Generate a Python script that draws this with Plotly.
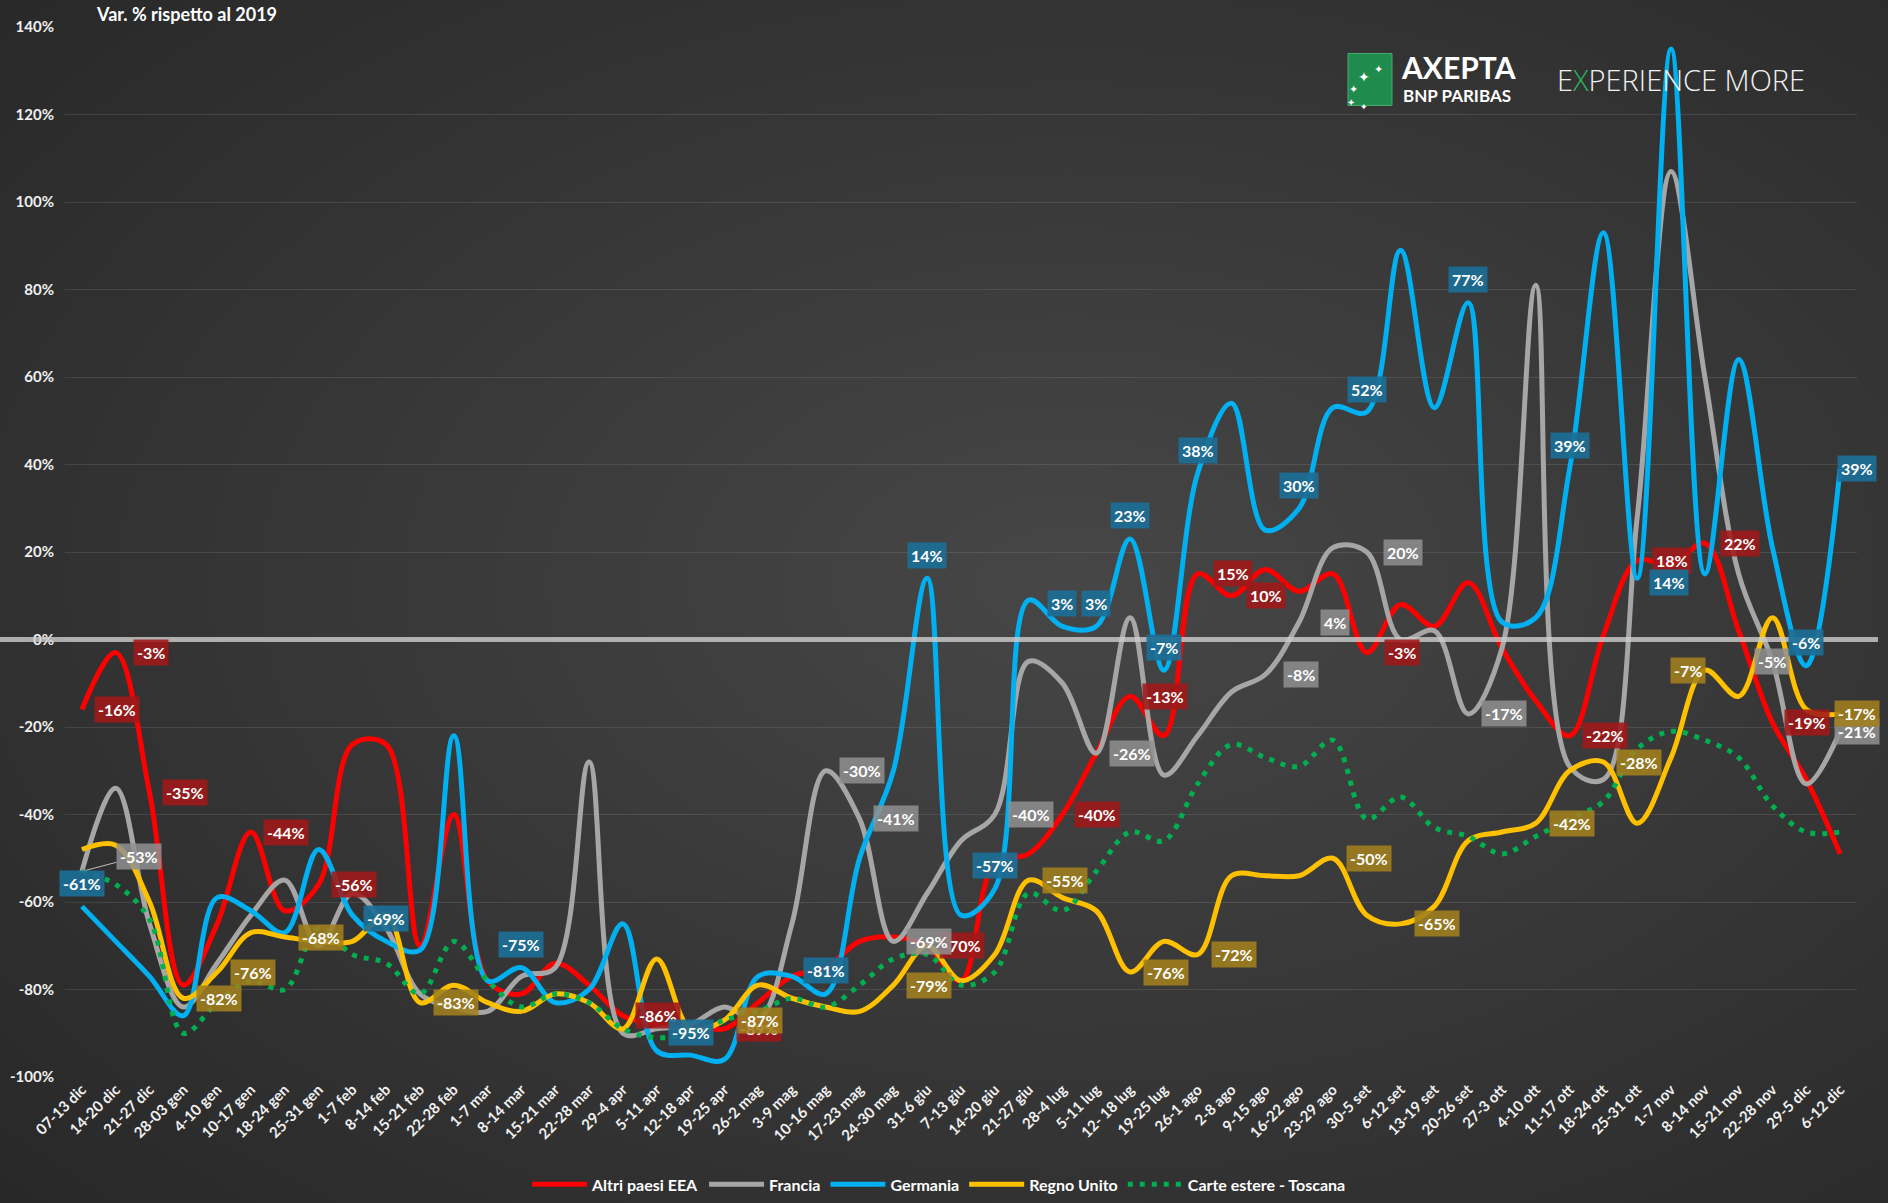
import plotly.graph_objects as go

categories = ["07-13 dic","14-20 dic","21-27 dic","28-03 gen","4-10 gen","10-17 gen","18-24 gen","25-31 gen",
              "1-7 feb","8-14 feb","15-21 feb","22-28 feb","1-7 mar","8-14 mar","15-21 mar","22-28 mar",
              "29-4 apr","5-11 apr","12-18 apr","19-25 apr","26-2 mag","3-9 mag","10-16 mag","17-23 mag",
              "24-30 mag","31-6 giu","7-13 giu","14-20 giu","21-27 giu","28-4 lug","5-11 lug","12- 18 lug",
              "19-25 lug","26-1 ago","2-8 ago","9-15 ago","16-22 ago","23-29 ago","30-5 set","6-12 set",
              "13-19 set","20-26 set","27-3 ott","4-10 ott","11-17 ott","18-24 ott","25-31 ott","1-7 nov",
              "8-14 nov","15-21 nov","22-28 nov","29-5 dic","6-12 dic"]

altri_eea = [-16,-3,-35,-79,-65,-44,-62,-56,-24,-24,-70,-40,-78,-81,-74,-79,-86,-88,-88,-89,
             -83,-77,-75,-69,-68,-70,-78,-51,-49,-40,-26,-13,-22,15,10,16,11,15,-3,8,
             3,13,-2,-14,-22,1,18,17,22,2,-19,-32,-49]
francia = [-53,-34,-65,-84,-74,-63,-55,-70,-58,-66,-81,-84,-85,-77,-75,-28,-90,-89,-88,-84,
           -87,-65,-30,-41,-69,-58,-46,-40,-5,-10,-26,5,-31,-22,-12,-8,4,21,20,0,
           2,-17,-2,81,-29,-32,28,107,60,15,-5,-33,-21]
germania = [-61,-69,-77,-86,-59,-62,-67,-48,-63,-69,-71,-22,-78,-75,-83,-80,-65,-94,-95,-96,
            -77,-77,-81,-50,-30,14,-63,-57,9,3,3,23,-7,38,54,25,30,53,52,89,
            53,77,4,5,39,93,14,135,15,64,21,-6,39]
regno_unito = [-48,-47,-60,-82,-76,-67,-68,-69,-69,-63,-83,-79,-83,-85,-81,-83,-89,-73,-89,-87,
               -79,-82,-84,-85,-79,-70,-78,-72,-55,-59,-62,-76,-69,-72,-54,-54,-54,-50,-63,-65,
               -61,-46,-44,-42,-30,-28,-42,-27,-7,-13,5,-16,-17]
toscana = [-53,-56,-64,-90,-83,-78,-80,-66,-72,-74,-81,-69,-78,-84,-81,-83,-89,-91,-90,-87,
           -85,-82,-84,-79,-73,-72,-79,-76,-58,-62,-53,-44,-46,-33,-24,-27,-29,-23,-41,-36,
           -43,-45,-49,-45,-41,-37,-25,-21,-23,-27,-38,-44,-44]

series_names = ["Altri paesi EEA", "Francia", "Germania", "Regno Unito", "Carte estere - Toscana"]

# indices of points that carry a data label
red_labels = [0,1,2,5,7,16,19,25,29,31,33,34,38,44,46,48,50]
gray_labels = [0,22,23,24,27,30,35,36,38,41,50,52]
blue_labels = [0,9,13,18,22,25,27,29,30,31,32,33,36,38,41,44,46,51,52]
yellow_labels = [3,4,6,10,19,24,28,31,33,37,39,43,45,48,52]

yticks = [-100,-80,-60,-40,-20,0,20,40,60,80,100,120,140]
yticktext = [f"{v}%" for v in yticks]

RED = "#FF0000"
GRAY = "#A6A6A6"
BLUE = "#00B0F0"
YELLOW = "#FFC000"
GREEN = "#00B050"

L, R, T, B = 65, 31, 26.5, 125.5
W, H = 1888, 1203
PW, PH = W - L - R, H - T - B

fig = go.Figure()
for name, vals, col in [(series_names[0], altri_eea, RED), (series_names[1], francia, GRAY),
                        (series_names[2], germania, BLUE), (series_names[3], regno_unito, YELLOW)]:
    fig.add_trace(go.Scatter(x=categories, y=vals, name=name, mode="lines",
                             line=dict(color=col, width=5, shape="spline", smoothing=1.0)))
fig.add_trace(go.Scatter(x=categories, y=toscana, name=series_names[4], mode="lines",
                         line=dict(color=GREEN, width=5, shape="spline", smoothing=1.0, dash="5px,7px")))

ann = []
FONT = "Lato, 'Open Sans', Arial, sans-serif"

def lab(idx, vals, bg, xshift=0, yshift=0, **kw):
    d = dict(x=categories[idx], y=vals[idx], xref="x", yref="y",
             text=f"<b>{vals[idx]}%</b>", showarrow=False, bgcolor=bg,
             font=dict(family=FONT, size=16, color="white"), borderpad=3,
             xshift=xshift, yshift=yshift)
    d.update(kw)
    ann.append(d)

RED_BG = "rgba(160,24,24,0.88)"
GRAY_BG = "rgba(145,145,145,0.85)"
BLUE_BG = "rgba(28,110,150,0.92)"
YEL_BG = "rgba(160,128,28,0.88)"

for i in red_labels:
    lab(i, altri_eea, RED_BG, xshift=35)
for i in gray_labels:
    if i == 0:
        ann.append(dict(x=categories[0], y=francia[0], xref="x", yref="y",
                        text=f"<b>{francia[0]}%</b>", showarrow=True, arrowhead=0,
                        arrowwidth=1, arrowcolor="#bfbfbf", ax=57, ay=-15,
                        bgcolor=GRAY_BG, font=dict(family=FONT, size=16, color="white"),
                        borderpad=3))
    elif i == 50:
        lab(i, francia, GRAY_BG)
    elif i == 52:
        lab(i, francia, GRAY_BG, xshift=17)
    else:
        lab(i, francia, GRAY_BG, xshift=36)
for i in blue_labels:
    if i == 46:
        lab(i, germania, BLUE_BG, xshift=32, yshift=-4)
    elif i == 52:
        lab(i, germania, BLUE_BG, xshift=17)
    else:
        lab(i, germania, BLUE_BG, yshift=23)
for i in yellow_labels:
    if i == 48:
        lab(i, regno_unito, YEL_BG, xshift=-17)
    elif i == 52:
        lab(i, regno_unito, YEL_BG, xshift=17)
    else:
        lab(i, regno_unito, YEL_BG, xshift=36)

def px2paper_x(px):
    return (px - L) / PW

def px2paper_y(py):
    return (H - B - py) / PH

# headings / logo texts
ann.append(dict(x=px2paper_x(94), y=px2paper_y(13), xref="paper", yref="paper",
                text="<b>Var. % rispetto al 2019</b>", showarrow=False, xanchor="left",
                yanchor="middle", font=dict(family=FONT, size=18, color="white")))
ann.append(dict(x=px2paper_x(1399), y=px2paper_y(67), xref="paper", yref="paper",
                text="<b>AXEPTA</b>", showarrow=False, xanchor="left", yanchor="middle",
                font=dict(family=FONT, size=30, color="white")))
ann.append(dict(x=px2paper_x(1401), y=px2paper_y(95), xref="paper", yref="paper",
                text="<b>BNP PARIBAS</b>", showarrow=False, xanchor="left", yanchor="middle",
                font=dict(family=FONT, size=17, color="white")))
ann.append(dict(x=px2paper_x(1555), y=px2paper_y(79), xref="paper", yref="paper",
                text="E<span style='color:#2db35d'>X</span>PERIENCE MORE", showarrow=False,
                xanchor="left", yanchor="middle",
                font=dict(family="'Open Sans', Lato, sans-serif", size=29, color="#f2f2f2", weight=300)))
for sx, sy, ss in [(1372, 66, 14), (1385, 60, 11), (1360, 80, 11), (1357, 94, 10), (1370, 99, 9)]:
    ann.append(dict(x=px2paper_x(sx), y=px2paper_y(sy), xref="paper", yref="paper",
                    text="✦", showarrow=False, font=dict(size=ss, color="white")))

shapes = []
# soft radial background
n = 32
for k in range(n):
    f = 1 - k / n
    rx = 0.85 * f
    ry = 0.90 * f
    cx, cy = 0.56, 0.47
    shapes.append(dict(type="circle", xref="paper", yref="paper",
                       x0=cx - rx, x1=cx + rx, y0=cy - ry, y1=cy + ry,
                       fillcolor="rgba(255,255,255,0.0085)", line=dict(width=0), layer="below"))
# logo square
shapes.append(dict(type="rect", xref="paper", yref="paper",
                   x0=px2paper_x(1348), x1=px2paper_x(1392), y0=px2paper_y(105), y1=px2paper_y(53),
                   fillcolor="#1f8c4d", line=dict(color="#45ad6c", width=1), layer="above"))
# 0% line across the full width
shapes.append(dict(type="line", xref="paper", yref="y",
                   x0=px2paper_x(0), x1=px2paper_x(1878), y0=0, y1=0,
                   line=dict(color="rgba(205,205,205,0.8)", width=5), layer="above"))

fig.update_layout(
    width=W, height=H,
    margin=dict(l=L, r=R, t=T, b=B, autoexpand=False),
    paper_bgcolor="#262626",
    plot_bgcolor="rgba(0,0,0,0)",
    font=dict(family=FONT, color="white"),
    showlegend=True,
    legend=dict(orientation="h", x=px2paper_x(939), xanchor="center", y=px2paper_y(1185),
                yanchor="middle", font=dict(family=FONT, size=16, color="white", weight="bold"),
                bgcolor="rgba(0,0,0,0)", itemwidth=55, tracegroupgap=0),
    annotations=ann,
    shapes=shapes,
)
fig.update_xaxes(type="category", range=[-0.5, 52.5], showgrid=False, zeroline=False,
                 showline=False, ticks="", tickangle=-45,
                 tickfont=dict(family=FONT, size=15, color="#f0f0f0", weight="bold"))
fig.update_yaxes(range=[-100, 140], tickvals=yticks, ticktext=yticktext, showgrid=True,
                 gridcolor="rgba(255,255,255,0.10)", gridwidth=1, zeroline=False, showline=False,
                 ticks="", ticklabelstandoff=10,
                 tickfont=dict(family=FONT, size=15, color="#f0f0f0", weight="bold"))

fig.write_html("out.html", config={"displayModeBar": False})

# remove the default page margin so the figure fills the window exactly
with open("out.html", "r", encoding="utf-8") as fh:
    html = fh.read()
html = html.replace("<head>", "<head><style>html,body{margin:0;padding:0;overflow:hidden;background:#262626;}</style>", 1)
with open("out.html", "w", encoding="utf-8") as fh:
    fh.write(html)
